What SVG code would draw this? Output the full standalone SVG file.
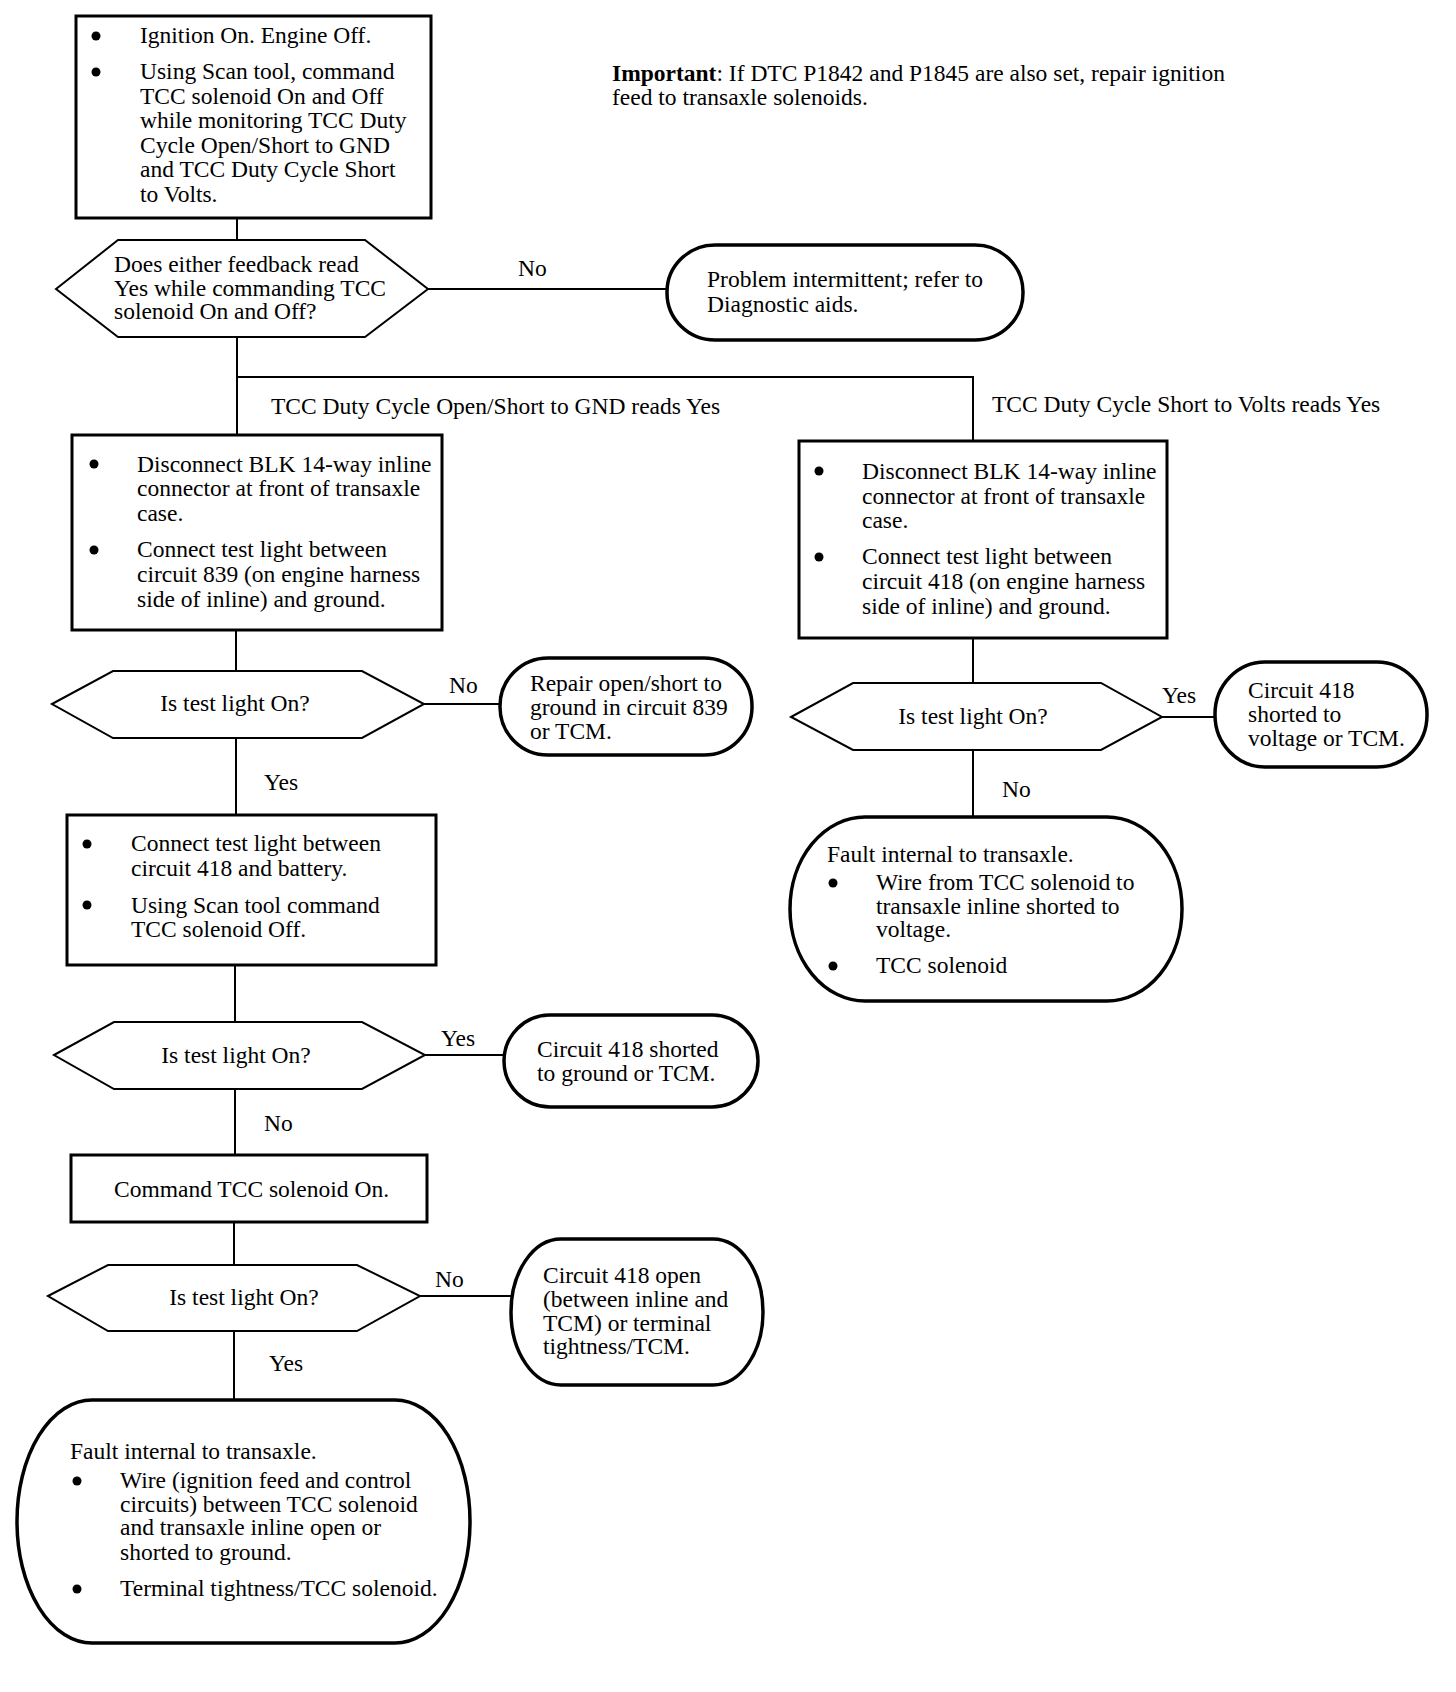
<svg xmlns="http://www.w3.org/2000/svg" width="1456" height="1692" viewBox="0 0 1456 1692">
<style>
text{font-family:"Liberation Serif","Times New Roman",serif;font-size:23.5px;fill:#000}
.b{font-weight:bold}
.box{fill:#fff;stroke:#000;stroke-width:3}
.dec{fill:#fff;stroke:#000;stroke-width:2}
.term{fill:#fff;stroke:#000;stroke-width:3.5}
.conn{stroke:#000;stroke-width:2;fill:none}
.mid{text-anchor:middle}
</style>
<defs><circle id="dot" r="4.5" fill="#000"/></defs>
<rect width="1456" height="1692" fill="#fff"/>

<g id="connectors">
<line class="conn" x1="237" y1="218" x2="237" y2="240"/>
<line class="conn" x1="428" y1="289" x2="667" y2="289"/>
<polyline class="conn" points="237,337 237,435"/>
<polyline class="conn" points="237,377 973,377 973,441"/>
<line class="conn" x1="236" y1="630" x2="236" y2="671"/>
<line class="conn" x1="424" y1="704" x2="500" y2="704"/>
<line class="conn" x1="236" y1="738" x2="236" y2="815"/>
<line class="conn" x1="235" y1="965" x2="235" y2="1022"/>
<line class="conn" x1="425" y1="1055" x2="504" y2="1055"/>
<line class="conn" x1="235" y1="1089" x2="235" y2="1155"/>
<line class="conn" x1="234" y1="1222" x2="234" y2="1265"/>
<line class="conn" x1="420" y1="1296" x2="511" y2="1296"/>
<line class="conn" x1="234" y1="1331" x2="234" y2="1400"/>
<line class="conn" x1="973" y1="638" x2="973" y2="683"/>
<line class="conn" x1="1162" y1="717" x2="1215" y2="717"/>
<line class="conn" x1="973" y1="750" x2="973" y2="817"/>
<text x="518" y="276">No</text>
<text x="271" y="414">TCC Duty Cycle Open/Short to GND reads Yes</text>
<text x="992" y="412">TCC Duty Cycle Short to Volts reads Yes</text>
<text x="449" y="693">No</text>
<text x="264" y="790">Yes</text>
<text x="441" y="1046">Yes</text>
<text x="264" y="1131">No</text>
<text x="435" y="1287">No</text>
<text x="269" y="1371">Yes</text>
<text x="1162" y="703">Yes</text>
<text x="1002" y="797">No</text>
</g>

<g id="note">
<text x="612" y="81"><tspan class="b">Important</tspan>:  If DTC P1842 and P1845 are also set, repair ignition</text>
<text x="612" y="105">feed to transaxle solenoids.</text>
</g>

<g id="box1">
<rect class="box" x="76" y="16" width="355" height="202"/>
<use href="#dot" x="96" y="36"/>
<use href="#dot" x="96" y="72"/>
<text x="140" y="43">Ignition On. Engine Off.</text>
<text x="140" y="79">Using Scan tool, command</text>
<text x="140" y="103.5">TCC solenoid On and Off</text>
<text x="140" y="128">while monitoring TCC Duty</text>
<text x="140" y="152.5">Cycle Open/Short to GND</text>
<text x="140" y="177">and TCC Duty Cycle Short</text>
<text x="140" y="201.5">to Volts.</text>
</g>

<g id="dec1">
<polygon class="dec" points="56,289 118,240 365,240 428,289 365,337 118,337"/>
<text x="114" y="272">Does either feedback read</text>
<text x="114" y="296">Yes while commanding TCC</text>
<text x="114" y="319">solenoid On and Off?</text>
</g>

<g id="term1">
<rect class="term" x="667" y="245" width="356" height="95" rx="48" ry="47"/>
<text x="707" y="287">Problem intermittent; refer to</text>
<text x="707" y="312">Diagnostic aids.</text>
</g>

<g id="box2">
<rect class="box" x="72" y="435" width="370" height="195"/>
<use href="#dot" x="94" y="464"/>
<use href="#dot" x="94" y="550"/>
<text x="137" y="471.5">Disconnect BLK 14-way inline</text>
<text x="137" y="496">connector at front of transaxle</text>
<text x="137" y="521">case.</text>
<text x="137" y="557">Connect test light between</text>
<text x="137" y="582">circuit 839 (on engine harness</text>
<text x="137" y="607">side of inline) and ground.</text>
</g>

<g id="box3">
<rect class="box" x="799" y="441" width="368" height="197"/>
<use href="#dot" x="819" y="471"/>
<use href="#dot" x="819" y="557"/>
<text x="862" y="479">Disconnect BLK 14-way inline</text>
<text x="862" y="504">connector at front of transaxle</text>
<text x="862" y="528">case.</text>
<text x="862" y="564">Connect test light between</text>
<text x="862" y="589">circuit 418 (on engine harness</text>
<text x="862" y="614">side of inline) and ground.</text>
</g>

<g id="dec2">
<polygon class="dec" points="52,704 113,671 362,671 424,704 362,738 113,738"/>
<text class="mid" x="235" y="711">Is test light On?</text>
</g>

<g id="term2">
<rect class="term" x="500" y="658" width="252" height="97" rx="48" ry="48"/>
<text x="530" y="691">Repair open/short to</text>
<text x="530" y="715">ground in circuit 839</text>
<text x="530" y="739">or TCM.</text>
</g>

<g id="box4">
<rect class="box" x="67" y="815" width="369" height="150"/>
<use href="#dot" x="87" y="844"/>
<use href="#dot" x="87" y="905"/>
<text x="131" y="851">Connect test light between</text>
<text x="131" y="876">circuit 418 and battery.</text>
<text x="131" y="913">Using Scan tool command</text>
<text x="131" y="937">TCC solenoid Off.</text>
</g>

<g id="dec3">
<polygon class="dec" points="54,1055 114,1022 362,1022 425,1055 362,1089 114,1089"/>
<text class="mid" x="236" y="1063">Is test light On?</text>
</g>

<g id="term3">
<rect class="term" x="504" y="1015" width="254" height="92" rx="46" ry="46"/>
<text x="537" y="1057">Circuit 418 shorted</text>
<text x="537" y="1081">to ground or TCM.</text>
</g>

<g id="box5">
<rect class="box" x="71" y="1155" width="356" height="67"/>
<text x="114" y="1197">Command TCC solenoid On.</text>
</g>

<g id="dec4">
<polygon class="dec" points="48,1296 108,1265 357,1265 420,1296 357,1331 108,1331"/>
<text class="mid" x="244" y="1305">Is test light On?</text>
</g>

<g id="term4">
<rect class="term" x="511" y="1239" width="252" height="146" rx="50" ry="73"/>
<text x="543" y="1283">Circuit 418 open</text>
<text x="543" y="1307">(between inline and</text>
<text x="543" y="1331">TCM) or terminal</text>
<text x="543" y="1354">tightness/TCM.</text>
</g>

<g id="term5">
<rect class="term" x="17" y="1400" width="453" height="243" rx="75" ry="121"/>
<text x="70" y="1459">Fault internal to transaxle.</text>
<use href="#dot" x="77" y="1481"/>
<use href="#dot" x="77" y="1589"/>
<text x="120" y="1488">Wire (ignition feed and control</text>
<text x="120" y="1512">circuits) between TCC solenoid</text>
<text x="120" y="1535">and transaxle inline open or</text>
<text x="120" y="1560">shorted to ground.</text>
<text x="120" y="1596">Terminal tightness/TCC solenoid.</text>
</g>

<g id="dec5">
<polygon class="dec" points="791,717 853,683 1101,683 1162,717 1101,750 853,750"/>
<text class="mid" x="973" y="724">Is test light On?</text>
</g>

<g id="term6">
<rect class="term" x="1215" y="662" width="212" height="105" rx="50" ry="52"/>
<text x="1248" y="698">Circuit 418</text>
<text x="1248" y="722">shorted to</text>
<text x="1248" y="746">voltage or TCM.</text>
</g>

<g id="term7">
<rect class="term" x="790" y="817" width="392" height="184" rx="75" ry="92"/>
<text x="827" y="862">Fault internal to transaxle.</text>
<use href="#dot" x="833" y="883"/>
<use href="#dot" x="833" y="966"/>
<text x="876" y="890">Wire from TCC solenoid to</text>
<text x="876" y="914">transaxle inline shorted to</text>
<text x="876" y="937">voltage.</text>
<text x="876" y="973">TCC solenoid</text>
</g>
</svg>
